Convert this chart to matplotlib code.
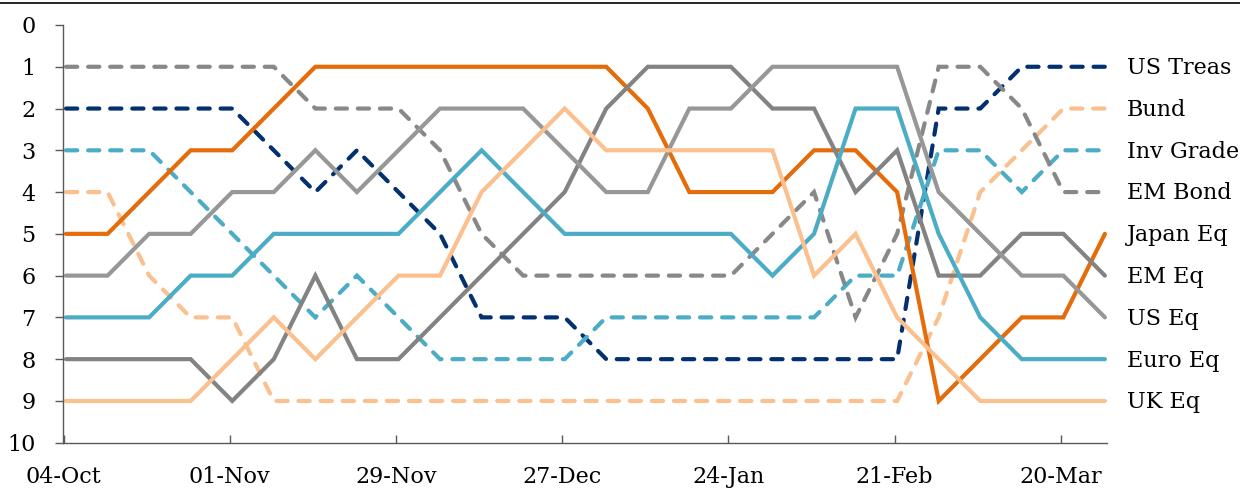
import matplotlib
matplotlib.use("Agg")
import matplotlib.pyplot as plt
from matplotlib.lines import Line2D
import numpy as np

plt.rcParams['font.family'] = ['DejaVu Serif']

# weekly ranks, 04-Oct .. 27-Mar
tick_labels = ['04-Oct', '01-Nov', '29-Nov', '27-Dec', '24-Jan', '21-Feb', '20-Mar']
names = ['US Treas', 'Bund', 'Inv Grade', 'EM Bond', 'Japan Eq', 'EM Eq', 'US Eq', 'Euro Eq', 'UK Eq']

us_treas  = [2, 2, 2, 2, 2, 3, 4, 3, 4, 5, 7, 7, 7, 8, 8, 8, 8, 8, 8, 8, 8, 2, 2, 1, 1, 1]
bund      = [4, 4, 6, 7, 7, 9, 9, 9, 9, 9, 9, 9, 9, 9, 9, 9, 9, 9, 9, 9, 9, 7, 4, 3, 2, 2]
inv_grade = [3, 3, 3, 4, 5, 6, 7, 6, 7, 8, 8, 8, 8, 7, 7, 7, 7, 7, 7, 6, 6, 3, 3, 4, 3, 3]
em_bond   = [1, 1, 1, 1, 1, 1, 2, 2, 2, 3, 5, 6, 6, 6, 6, 6, 6, 5, 4, 7, 5, 1, 1, 2, 4, 4]
japan_eq  = [5, 5, 4, 3, 3, 2, 1, 1, 1, 1, 1, 1, 1, 1, 2, 4, 4, 4, 3, 3, 4, 9, 8, 7, 7, 5]
em_eq     = [8, 8, 8, 8, 9, 8, 6, 8, 8, 7, 6, 5, 4, 2, 1, 1, 1, 2, 2, 4, 3, 6, 6, 5, 5, 6]
us_eq     = [6, 6, 5, 5, 4, 4, 3, 4, 3, 2, 2, 2, 3, 4, 4, 2, 2, 1, 1, 1, 1, 4, 5, 6, 6, 7]
euro_eq   = [7, 7, 7, 6, 6, 5, 5, 5, 5, 4, 3, 4, 5, 5, 5, 5, 5, 6, 5, 2, 2, 5, 7, 8, 8, 8]
uk_eq     = [9, 9, 9, 9, 8, 7, 8, 7, 6, 6, 4, 3, 2, 3, 3, 3, 3, 3, 6, 5, 7, 8, 9, 9, 9, 9]

series = [us_treas, bund, inv_grade, em_bond, japan_eq, em_eq, us_eq, euro_eq, uk_eq]
colors = ['#03306E', '#FBC08E', '#4BACC6', '#888888', '#E46C0A',
          '#838383', '#979797', '#4BACC6', '#FBC08E']
dashed = [True, True, True, True, False, False, False, False, False]

fig = plt.figure(figsize=(12.4, 4.88), dpi=100)
ax = fig.add_axes([63.3 / 1240, 1 - 442.7 / 488, (1107 - 63.3) / 1240, (442.7 - 25) / 488])

x = np.arange(len(us_treas))
lw = 3.0
fs = 16
for name, ys, c, d in zip(names, series, colors, dashed):
    ls = (0, (2.7, 2.6)) if d else '-'
    ax.plot(x, ys, color=c, lw=lw, linestyle=ls, dash_capstyle='round',
            solid_capstyle='round', solid_joinstyle='miter', dash_joinstyle='miter')
    ax.annotate(name, (x[-1], ys[-1]), xytext=(16, -1.0), textcoords='offset points',
                va='center', ha='left', fontsize=fs, color='#000000',
                annotation_clip=False)

ax.set_xlim(-0.065, 25.05)
ax.set_ylim(10, 0)
ax.set_yticks(range(0, 11))
ax.set_yticklabels([str(v) for v in range(0, 11)])
ax.set_xticks([4 * k - 0.06 for k in range(len(tick_labels))])
ax.set_xticklabels(tick_labels)

for s in ['top', 'right']:
    ax.spines[s].set_visible(False)
for s in ['left', 'bottom']:
    ax.spines[s].set_color('#595959')
    ax.spines[s].set_linewidth(1.0)

ax.tick_params(axis='x', direction='in', length=6, width=1, color='#595959',
               pad=17, labelsize=fs)
ax.tick_params(axis='y', direction='out', length=6, width=1, color='#595959',
               pad=14, labelsize=fs)

fig.add_artist(Line2D([0, 1], [1 - 2.5 / 488, 1 - 2.5 / 488], color='black', lw=1.2,
                      transform=fig.transFigure))

fig.savefig('out.png', dpi=100, facecolor='white')
